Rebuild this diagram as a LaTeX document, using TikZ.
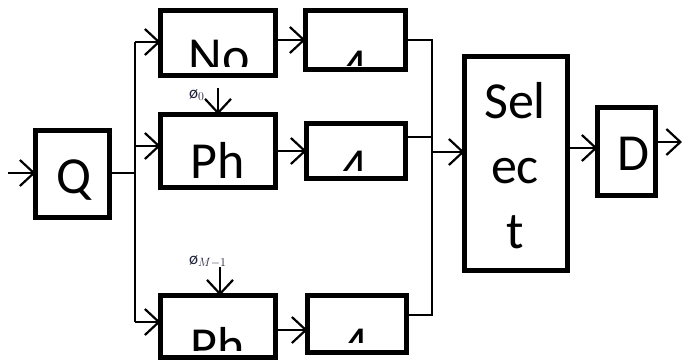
\documentclass[tikz,border=0pt]{standalone}
\usepackage{fontspec}
\setmainfont{Carlito}
\usetikzlibrary{arrows.meta,calc}

\tikzset{
  blk/.style={draw=black, line width=5pt, fill=none, inner sep=0pt, outer sep=0pt},
  big/.style={font=\fontsize{52}{52}\selectfont, inner sep=0pt, anchor=base},
  lbl/.style={font=\fontsize{17}{17}\selectfont, inner sep=0pt, anchor=base west, text={rgb,255:red,30;green,32;blue,55}},
  sig/.style={line width=2pt, -{Straight Barb[length=14pt,width=26pt,line width=2.2pt]}},
  wire/.style={line width=2pt},
  bus/.style={line width=1.3pt},
}

\begin{document}
\begin{tikzpicture}[x=1pt,y=-1pt]
\useasboundingbox (0,0) rectangle (683,364);

% blocks
\node[blk, minimum width=74pt,  minimum height=87pt]  (Q)   at (72.5,174)   {};
\node[blk, minimum width=115pt, minimum height=65pt]  (No)  at (218,43)     {};
\node[blk, minimum width=100pt, minimum height=59pt]  (A1)  at (355.5,40)   {};
\node[blk, minimum width=115pt, minimum height=73pt]  (Ph0) at (218,151)    {};
\node[blk, minimum width=99pt,  minimum height=55pt]  (A2)  at (356,151)    {};
\node[blk, minimum width=115pt, minimum height=62pt]  (PhM) at (218,326.5)  {};
\node[blk, minimum width=99pt,  minimum height=57pt]  (A3)  at (357,324)    {};
\node[blk, minimum width=103pt, minimum height=214pt] (Sel) at (516,163.5)  {};
\node[blk, minimum width=58pt,  minimum height=88pt]  (D)   at (626.5,151.5){};

% block texts
\node[big] (tQ) at (74,193) {Q};
\node[big] (tD) at (633,170) {D};
\node[big] (tSel1) at (515,118) {Sel};
\node[big] (tSel2) at (515,183) {ec};
\node[big] (tSel3) at (515,248) {t};

% texts cut off at the lower part of their blocks
\begin{scope}
  \clip (160,10) rectangle (276,66);
  \node[big] (tNo) at (219,73) {No};
\end{scope}
\begin{scope}
  \clip (306,10) rectangle (406,65);
  \node[big] (tA1) at (355,84) {4};
\end{scope}
\begin{scope}
  \clip (160,114) rectangle (276,188);
  \node[big] (tPh0) at (218,178) {Ph};
\end{scope}
\begin{scope}
  \clip (306,123) rectangle (406,170);
  \node[big] (tA2) at (355,184) {4};
\end{scope}
\begin{scope}
  \clip (160,295) rectangle (276,350);
  \node[big] (tPhM) at (218,363) {Ph};
\end{scope}
\begin{scope}
  \clip (307,295) rectangle (407,342);
  \node[big] (tA3) at (356,362) {4};
\end{scope}

% input and fan-out
\coordinate (in) at (8,173);
\coordinate (fan) at (135,173);
\draw[sig] (in) -- (in -| Q.west);
\draw[wire] (Q.east |- fan) -- (fan);
\draw[wire] (fan |- 0,42) -- (fan |- 0,322);
\draw[sig] (fan |- 0,42) -- (No.west |- 0,42);
\draw[sig] (fan |- 0,146) -- (Ph0.west |- 0,146);
\draw[sig] (fan |- 0,322) -- (PhM.west |- 0,322);

% block to block
\draw[sig] (No.east |- A1) -- (A1.west);
\draw[sig] (Ph0.east) -- (A2.west);
\draw[sig] (PhM.east |- 0,330) -- (A3.west |- 0,330);

% collecting bus into the selector
\coordinate (bus) at (432,152);
\draw[bus] (A1.east) -- (bus |- A1.east) -- (bus |- 0,315) -- (A3.east |- 0,315);
\draw[bus] (A2.east |- 0,137) -- (bus |- 0,137);
\draw[sig] (bus) -- (bus -| Sel.west);

% selector to output
\draw[sig] (Sel.east |- 0,148) -- (D.west |- 0,148);
\coordinate (out) at (682,142);
\draw[sig] (D.east |- out) -- (out);

% phase inputs
\coordinate (p0) at (218,88);
\coordinate (pM) at (220,267);
\draw[sig] (p0) -- (p0 |- Ph0.north);
\draw[sig] (pM) -- (pM |- PhM.north);
\node[lbl] (l0) at (189,98) {ø$_0$};
\node[lbl] (lM) at (189,264) {ø$_{M-1}$};

\end{tikzpicture}
\end{document}
